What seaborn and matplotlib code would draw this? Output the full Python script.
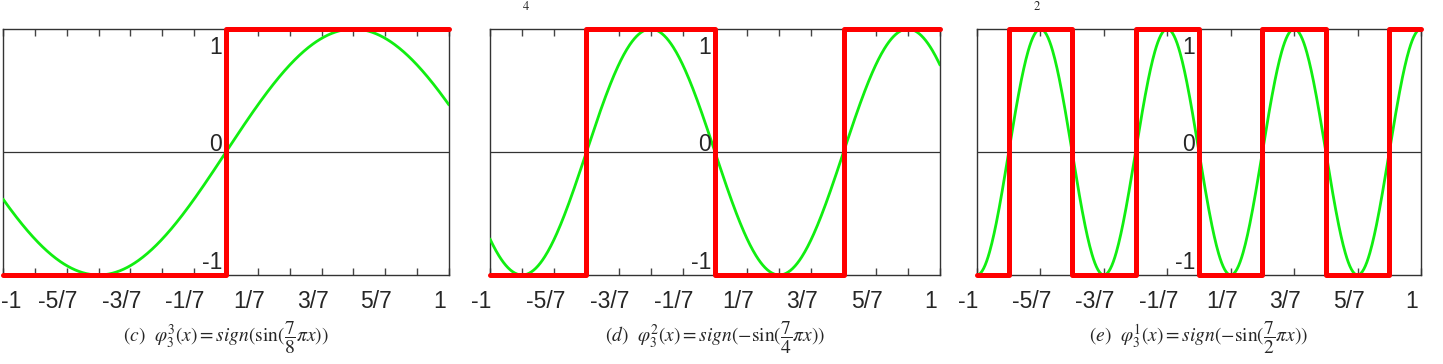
import numpy as np
import pandas as pd
import seaborn as sns
import matplotlib.pyplot as plt
from matplotlib.transforms import ScaledTranslation

# panel captions and the frequency factor k of the green curve sin(k*pi*x)
captions = [
    r'$(c)\ \ \varphi_3^3(x) = sign(\sin(\dfrac{7}{8}\pi x))$',
    r'$(d)\ \ \varphi_3^2(x) = sign(-\sin(\dfrac{7}{4}\pi x))$',
    r'$(e)\ \ \varphi_3^1(x) = sign(-\sin(\dfrac{7}{2}\pi x))$',
]
freqs = [7 / 8, -7 / 4, -7 / 2]

# square wave: jump positions and levels
step_edges = [
    [-1, 0, 1],
    [-1, -4 / 7, 0, 4 / 7, 1],
    [-1, -6 / 7, -4 / 7, -2 / 7, 0, 2 / 7, 4 / 7, 6 / 7, 1],
]
step_levels = [
    [-1, 1],
    [-1, 1, -1, 1],
    [-1, 1, -1, 1, -1, 1, -1, 1],
]

tick_vals = [i / 7 for i in range(-7, 8)]
tick_text = ['-1', '', '-5/7', '', '-3/7', '', '-1/7', '', '1/7', '', '3/7', '', '5/7', '', '1']
ylab_text = ['1', '0', '-1']
ylab_pos = [0.85, 0.06, -0.9]

# axes boxes in pixels: left, right
boxes = [(3, 449), (490, 940), (977, 1421)]
W, H = 1443, 364
top_px, bot_px = 29, 275

sns.set_style('white')
plt.rcParams['font.family'] = ['Liberation Sans', 'DejaVu Sans']
plt.rcParams['mathtext.fontset'] = 'stix'

fig = plt.figure(figsize=(W / 100, H / 100), dpi=100)

for i in range(3):
    l, r = boxes[i]
    ax = fig.add_axes([l / W, 1 - bot_px / H, (r - l) / W, (bot_px - top_px) / H])

    xs = np.linspace(-1, 1, 600)
    curve = pd.DataFrame({'x': xs, 'y': np.sin(freqs[i] * np.pi * xs)})
    sns.lineplot(data=curve, x='x', y='y', ax=ax, color='#11ee11', lw=2.0,
                 sort=False, estimator=None, zorder=3)

    sq = pd.DataFrame({'x': step_edges[i], 'y': step_levels[i] + [step_levels[i][-1]]})
    sns.lineplot(data=sq, x='x', y='y', ax=ax, color='#ff0000', lw=3.6,
                 sort=False, estimator=None, drawstyle='steps-post',
                 clip_on=False, zorder=4)

    ax.axhline(0, color='#333333', lw=0.9, zorder=1)
    ax.set_xlim(-1, 1)
    ax.set_ylim(-1, 1)
    ax.set_xlabel('')
    ax.set_ylabel('')
    ax.set_yticks([])
    ax.set_xticks(tick_vals)
    ax.set_xticklabels(tick_text, fontsize=16.5)
    ax.tick_params(axis='x', direction='in', length=5, width=1, color='#444444',
                   top=True, bottom=True, pad=11)
    shift = ScaledTranslation(-9 / 100, 0, fig.dpi_scale_trans)
    labs = ax.get_xticklabels()
    for j, lab in enumerate(labs):
        if i == 0 and j == 0:
            # keep the first label inside the picture
            lab.set_horizontalalignment('left')
            lab.set_transform(lab.get_transform() + ScaledTranslation(-2 / 100, 0, fig.dpi_scale_trans))
        else:
            lab.set_transform(lab.get_transform() + shift)
    for sp in ax.spines.values():
        sp.set_color('#333333')
        sp.set_linewidth(1.0)

    ytr = ax.transData + ScaledTranslation(-4 / 100, 0, fig.dpi_scale_trans)
    for t, yv in zip(ylab_text, ylab_pos):
        ax.text(0, yv, t, transform=ytr, ha='right', va='center', fontsize=16.5, zorder=5)

    fig.text((l + r) / 2 / W, 1 - 338 / H, captions[i], ha='center', va='center',
             fontsize=14)

# bits of the row above, at the very top edge
fig.text(526 / W, 1 - 6 / H, r'$4$', ha='center', va='center', fontsize=9)
fig.text(1037 / W, 1 - 6 / H, r'$2$', ha='center', va='center', fontsize=9)

fig.savefig('out.png', dpi=100)
